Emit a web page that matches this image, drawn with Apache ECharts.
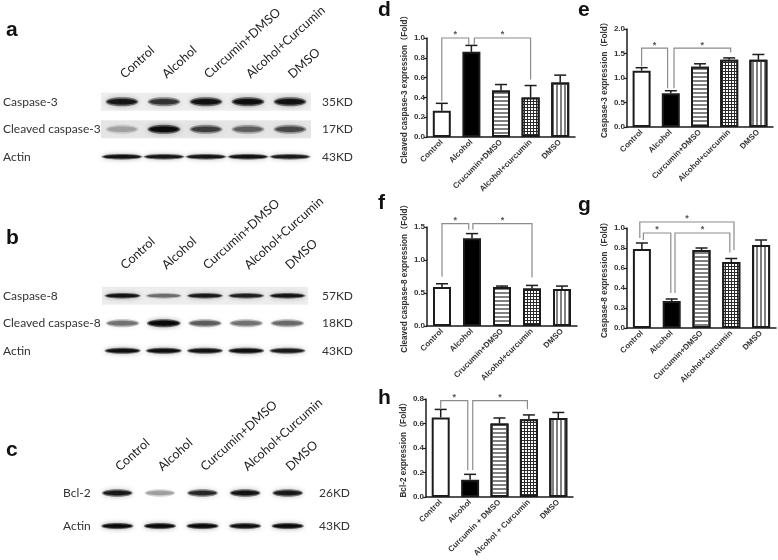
<!DOCTYPE html>
<html><head><meta charset="utf-8">
<style>html,body{margin:0;padding:0;background:#fff}#c{width:778px;height:560px}</style>
<script src="https://cdn.jsdelivr.net/npm/echarts@6/dist/echarts.min.js"></script>
</head><body><div id="c"></div>
<script>
// ---------- bar chart data ----------
const dCategories = ['Control','Alcohol','Crucumin+DMSO','Alcohol+curcumin','DMSO'];
const dValues = [0.265,0.86,0.47,0.40,0.55];
const dErrTops = [0.34,0.925,0.53,0.52,0.625];
const eCategories = ['Control','Alcohol','Curcumin+DMSO','Alcohol+curcumin','DMSO'];
const eValues = [1.15,0.69,1.23,1.37,1.37];
const eErrTops = [1.21,0.74,1.29,1.41,1.48];
const fCategories = ['Control','Alcohol','Crucumin+DMSO','Alcohol+curcumin','DMSO'];
const fValues = [0.59,1.33,0.59,0.57,0.56];
const fErrTops = [0.64,1.40,0.605,0.615,0.605];
const gCategories = ['Control','Alcohol','Curcumin+DMSO','Alcohol+curcumin','DMSO'];
const gValues = [0.79,0.27,0.78,0.66,0.83];
const gErrTops = [0.85,0.29,0.80,0.695,0.88];
const hCategories = ['Control','Alcohol','Curcumin + DMSO','Alcohol + Curcumin','DMSO'];
const hValues = [0.65,0.14,0.60,0.635,0.645];
const hErrTops = [0.715,0.185,0.645,0.67,0.69];
// brackets: from category, from offset, from drop value, to category, to offset, to drop value, top value
const dBrackets = [[0,0,0.36,1,-0.09,0.93,1.0],[1,0.1,0.93,3,0,0.58,1.0]];
const eBrackets = [[0,0,1.24,1,-0.11,0.79,1.61],[1,0.11,0.79,3,0.05,1.52,1.61]];
const fBrackets = [[0,0,0.745,1,-0.11,1.46,1.55],[1,0.03,1.46,3,0,0.735,1.55]];
const gBrackets = [[0,-0.07,0.90,3,0.09,0.78,1.06],[0,0.05,0.88,1,-0.03,0.35,0.95],[1,0.11,0.35,3,-0.05,0.755,0.95]];
const hBrackets = [[0,0,0.724,1,-0.08,0.22,0.786],[1,0.09,0.22,3,-0.05,0.716,0.786]];

// ---------- western blot data ----------
const laneNamesA = ['Control','Alcohol','Curcumin+DMSO','Alcohol+Curcumin','DMSO'];
const laneNamesB = ['Control','Alcohol','Curcumin+DMSO','Alcohol+Curcumin','DMSO'];
const laneNamesC = ['Control','Alcohol','Curcumin+DMSO','Alcohol+Curcumin','DMSO'];
const rowNamesA = ['Caspase-3','Cleaved caspase-3','Actin'];
const rowSizesA = ['35KD','17KD','43KD'];
const rowNamesB = ['Caspase-8','Cleaved caspase-8','Actin'];
const rowSizesB = ['57KD','18KD','43KD'];
const rowNamesC = ['Bcl-2','Actin'];
const rowSizesC = ['26KD','43KD'];
const bandsA = [[0.85,0.65,0.88,0.92,0.88],[0.22,0.95,0.6,0.45,0.55],[0.92,0.88,0.88,0.92,0.85]];
const bandsB = [[0.9,0.42,0.85,0.8,0.88],[0.42,1.0,0.5,0.42,0.45],[0.95,0.95,0.9,0.95,0.85]];
const bandsC = [[0.85,0.28,0.75,0.9,0.85],[1.0,1.0,1.0,0.95,1.0]];
const tintsA = [0.07,0.1,0];
const tintsB = [0.07,0,0];
const tintsC = [0,0];

// ---------- layout ----------
const barPanels = [
 {cats:dCategories,vals:dValues,tops:dErrTops,br:dBrackets,name:'Cleaved caspase-3 expression（Fold）',left:427,top:38,w:148,h:99,max:1.0,step:0.2},
 {cats:eCategories,vals:eValues,tops:eErrTops,br:eBrackets,name:'Caspase-3 expression（Fold）',left:627,top:29,w:146,h:98,max:2.0,step:0.5},
 {cats:fCategories,vals:fValues,tops:fErrTops,br:fBrackets,name:'Cleaved caspase-8 expression（Fold）',left:427,top:227,w:150,h:99,max:1.5,step:0.5},
 {cats:gCategories,vals:gValues,tops:gErrTops,br:gBrackets,name:'Caspase-8 expression（Fold）',left:627,top:228,w:149,h:100,max:1.0,step:0.2},
 {cats:hCategories,vals:hValues,tops:hErrTops,br:hBrackets,name:'Bcl-2 expression（Fold）',left:426,top:399,w:147,h:98,max:0.8,step:0.2}
];
const blotPanels = [
 {lanes:laneNamesA,rows:rowNamesA,sizes:rowSizesA,bands:bandsA,tints:tintsA,left:101,top:88,w:210,h:82.5,lm:98,rm:11,tm:12,bw:[0.78,0.78,0.98],bh:[9,9,5.5]},
 {lanes:laneNamesB,rows:rowNamesB,sizes:rowSizesB,bands:bandsB,tints:tintsB,left:100,top:282,w:208,h:82.5,lm:99,rm:14,tm:15,bw:[0.88,0.82,0.88],bh:[5.5,8,6]},
 {lanes:laneNamesC,rows:rowNamesC,sizes:rowSizesC,bands:bandsC,tints:tintsC,left:96,top:476.5,w:213,h:66,lm:33,rm:10,tm:8,bw:[0.72,0.76],bh:[7.5,6]}
];
const letters = [['a',6,20],['b',6,228],['c',6,440],['d',378,0],['e',578,0],['f',378,193],['g',578,195],['h',378,388]];

const BAR = 'Liberation Sans, Arial, sans-serif';
const BLOT = 'Lato, sans-serif';
const INK = '#1c1c1c';
const patterns = [
 {color:'#fff'},
 {color:'#000'},
 {color:'#fff',decal:{symbol:'rect',symbolSize:1,color:'#808080',dashArrayX:[1,0],dashArrayY:[2,1.5],rotation:0}},
 {color:'#2a2a2a',decal:{symbol:'rect',symbolSize:1,color:'#fff',dashArrayX:[2,1],dashArrayY:[2,1],rotation:0}},
 {color:'#fff',decal:{symbol:'rect',symbolSize:1,color:'#808080',dashArrayX:[1.5,1.5],dashArrayY:[1,0],rotation:0}}
];

const grid=[],xAxis=[],yAxis=[],series=[];
barPanels.forEach((p,i)=>{
  grid.push({left:p.left,top:p.top,width:p.w,height:p.h,containLabel:false});
  xAxis.push({type:'category',gridIndex:i,data:p.cats,
    axisLine:{lineStyle:{color:INK,width:1.5}},axisTick:{alignWithLabel:true,length:3,lineStyle:{color:INK,width:1.2}},
    axisLabel:{interval:0,rotate:45,fontSize:8,fontWeight:'bold',fontFamily:BAR,color:'#333',margin:4}});
  yAxis.push({type:'value',gridIndex:i,min:0,max:p.max,interval:p.step,name:p.name,nameLocation:'middle',nameGap:18,nameRotate:90,
    nameTextStyle:{fontSize:8.2,fontWeight:'bold',fontFamily:BAR+', Noto Sans CJK SC',color:'#333'},
    splitLine:{show:false},axisLine:{show:true,lineStyle:{color:INK,width:1.5}},axisTick:{show:true,length:3,lineStyle:{color:INK,width:1.2}},
    axisLabel:{fontSize:8,fontWeight:'bold',fontFamily:BAR,color:'#333',margin:2,formatter:v=>v.toFixed(1)}});
  series.push({type:'bar',xAxisIndex:i,yAxisIndex:i,barWidth:18,silent:true,
    data:p.vals.map((v,k)=>({value:v,itemStyle:Object.assign({borderColor:INK,borderWidth:2},patterns[k])}))});
  series.push({type:'custom',xAxisIndex:i,yAxisIndex:i,silent:true,z:3,
    data:p.vals.map((v,k)=>[k,v,p.tops[k]]),
    renderItem:(params,api)=>{
      const a=api.coord([api.value(0),api.value(1)]),b=api.coord([api.value(0),api.value(2)]);
      const st={stroke:INK,lineWidth:1.5,fill:null};
      return {type:'group',children:[
        {type:'line',shape:{x1:a[0],y1:a[1],x2:b[0],y2:b[1]},style:st},
        {type:'line',shape:{x1:b[0]-6,y1:b[1],x2:b[0]+6,y2:b[1]},style:st}]};
    }});
  series.push({type:'custom',xAxisIndex:i,yAxisIndex:i,silent:true,z:4,
    data:p.br,
    renderItem:(params,api)=>{
      const band=api.size([1,0])[0];
      const x1=api.coord([api.value(0),0])[0]+api.value(1)*band;
      const x2=api.coord([api.value(3),0])[0]+api.value(4)*band;
      const y1=api.coord([0,api.value(2)])[1],y2=api.coord([0,api.value(5)])[1],yt=api.coord([0,api.value(6)])[1];
      return {type:'group',children:[
        {type:'polyline',shape:{points:[[x1,y1],[x1,yt],[x2,yt],[x2,y2]]},style:{stroke:'#8c8c8c',lineWidth:1.2,fill:null}},
        {type:'text',style:{text:'*',x:(x1+x2)/2,y:yt-3,align:'center',verticalAlign:'middle',font:'bold 9px '+BAR,fill:'#555'}}]};
    }});
});
blotPanels.forEach((p,j)=>{
  const i=barPanels.length+j;
  const base={show:true,axisLine:{show:false},axisTick:{show:false},splitLine:{show:false}};
  grid.push({left:p.left,top:p.top,width:p.w,height:p.h});
  xAxis.push(Object.assign({},base,{type:'category',gridIndex:i,position:'top',data:p.lanes,
    axisLabel:{interval:0,rotate:-42,margin:p.tm,fontSize:12.5,fontFamily:BLOT,color:'#222'}}));
  yAxis.push(Object.assign({},base,{type:'category',gridIndex:i,inverse:true,data:p.rows,position:'left',
    axisLabel:{interval:0,margin:p.lm,align:'left',fontSize:12,fontFamily:BLOT,color:'#333'}}));
  yAxis.push(Object.assign({},base,{type:'category',gridIndex:i,inverse:true,data:p.sizes,position:'right',
    axisLabel:{interval:0,margin:p.rm,fontSize:12,fontFamily:BLOT,color:'#333'}}));
  const yIdx=yAxis.length-2;
  series.push({type:'custom',xAxisIndex:i,yAxisIndex:yIdx,silent:true,z:1,
    data:p.tints.map((t,r)=>[0,r,t]),
    renderItem:(params,api)=>{
      const t=api.value(2); if(!t) return {type:'group',children:[]};
      const cs=params.coordSys,c=api.coord([0,api.value(1)]),h=api.size([0,1])[1]*0.66;
      return {type:'rect',shape:{x:cs.x,y:c[1]-h/2,width:cs.width,height:h},style:{fill:'rgba(0,0,0,'+t+')'}};
    }});
  const cells=[];
  p.bands.forEach((row,r)=>row.forEach((v,l)=>cells.push([l,r,v,p.bw[r],p.bh[r]])));
  series.push({type:'custom',xAxisIndex:i,yAxisIndex:yIdx,silent:true,z:2,
    data:cells,
    renderItem:(params,api)=>{
      const c=api.coord([api.value(0),api.value(1)]),w=api.size([1,0])[0]*api.value(3),h=api.value(4),v=api.value(2);
      return {type:'group',children:[
        {type:'ellipse',shape:{cx:c[0],cy:c[1],rx:w/2,ry:h/2},style:{fill:'rgba(15,15,15,'+(v*0.55)+')',shadowBlur:5,shadowColor:'rgba(0,0,0,'+(v*0.6)+')'}},
        {type:'ellipse',shape:{cx:c[0],cy:c[1],rx:w/2*0.9,ry:h/2*0.6},style:{fill:'rgba(0,0,0,'+(v*0.8)+')',shadowBlur:2,shadowColor:'rgba(0,0,0,'+(v*0.7)+')'}}]};
    }});
});
const chart=echarts.init(document.getElementById('c'),null,{renderer:'canvas'});
chart.setOption({animation:false,backgroundColor:'#fff',grid,xAxis,yAxis,series,
  graphic:letters.map(l=>({type:'text',x:l[1],y:l[2],style:{text:l[0],font:'bold 21px '+BAR,fill:'#111'}}))});
</script></body></html>
